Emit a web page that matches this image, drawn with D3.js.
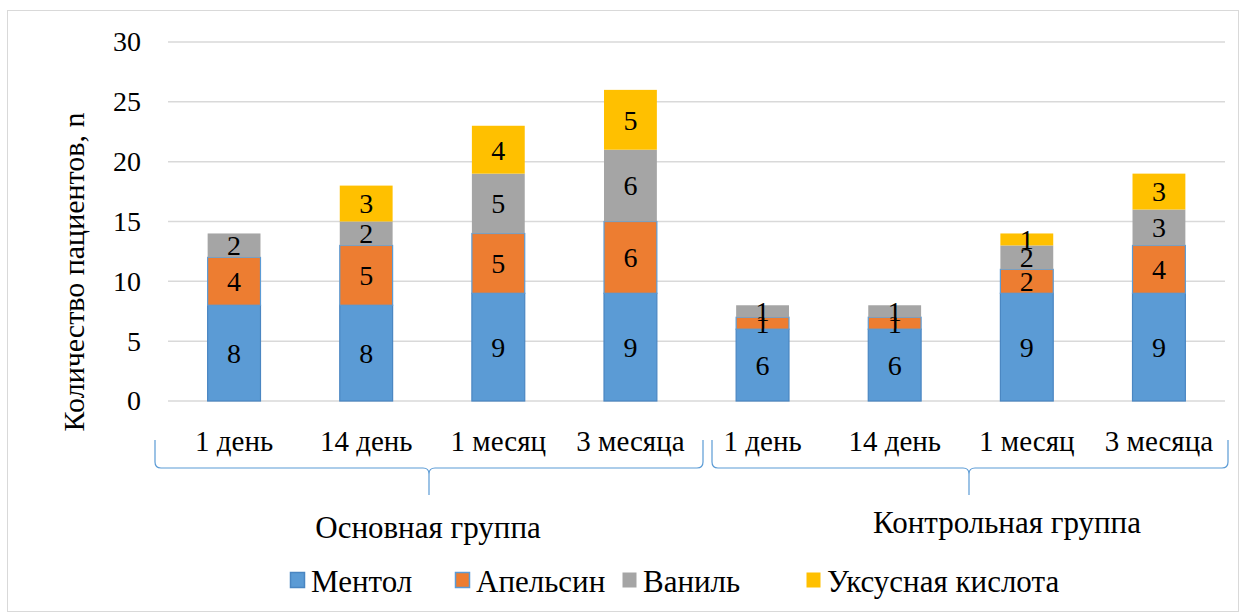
<!DOCTYPE html>
<html>
<head>
<meta charset="utf-8">
<script src="https://cdn.jsdelivr.net/npm/d3@7"></script>
<style>
  html, body { margin: 0; padding: 0; background: #fff; }
  svg { display: block; }
</style>
</head>
<body>
<svg id="chart" width="1243" height="614"></svg>
<script>
// Category labels and their groups
const periods = ["1 день", "14 день", "1 месяц", "3 месяца"];
const groups = ["Основная группа", "Контрольная группа"];

// Series (stack order bottom to top)
const seriesNames = ["Ментол", "Апельсин", "Ваниль", "Уксусная кислота"];
const mentol   = [8, 8, 9, 9, 6, 6, 9, 9];
const orange   = [4, 5, 5, 6, 1, 1, 2, 4];
const vanilla  = [2, 2, 5, 6, 1, 1, 2, 3];
const acetic   = [0, 3, 4, 5, 0, 0, 1, 3];

const yTicks = [0, 5, 10, 15, 20, 25, 30];
const yTitle = "Количество пациентов, n";

const colors = ["#5B9BD5", "#ED7D31", "#A5A5A5", "#FFC000"];
const strokes = ["#4A86C2", "#5B9BD5", "none", "none"];
const FONT = "'Liberation Serif', 'Times New Roman', Tinos, 'DejaVu Serif', serif";

const svg = d3.select("#chart");

// outer frame
svg.append("rect").attr("x", 7.5).attr("y", 10.5).attr("width", 1231).attr("height", 601)
  .attr("fill", "#fff").attr("stroke", "#d9d9d9").attr("stroke-width", 1);

const plot = { left: 168, right: 1225, top: 42, bottom: 401 };

const rows = periods.concat(periods).map((p, i) => ({
  key: i, period: p, group: groups[Math.floor(i / 4)],
  "Ментол": mentol[i], "Апельсин": orange[i], "Ваниль": vanilla[i], "Уксусная кислота": acetic[i]
}));

const x = d3.scaleBand().domain(rows.map(d => d.key)).range([plot.left, plot.right]).paddingInner(0.6).paddingOuter(0.3);
const y = d3.scaleLinear().domain([0, 30]).range([plot.bottom, plot.top]);

function txt(sel, size) {
  return sel.attr("font-family", FONT).style("font-family", FONT).style("font-size", size + "px").attr("fill", "#000");
}

// gridlines
svg.append("g").selectAll("line").data(yTicks).join("line")
  .attr("x1", plot.left).attr("x2", plot.right)
  .attr("y1", d => y(d)).attr("y2", d => y(d))
  .attr("stroke", "#d9d9d9").attr("stroke-width", 1.5);

// y axis labels
const yAxis = d3.axisLeft(y).tickValues(yTicks).tickSize(0).tickPadding(0);
const gy = svg.append("g").attr("transform", `translate(${plot.left - 27},0)`).call(yAxis);
gy.select(".domain").remove();
gy.attr("font-family", FONT);
txt(gy.selectAll("text"), 28);

// y title
txt(svg.append("text"), 30)
  .attr("transform", `translate(84,272) rotate(-90)`)
  .attr("text-anchor", "middle").text(yTitle);

// stacked bars
const stack = d3.stack().keys(seriesNames)(rows);
const layers = svg.append("g").selectAll("g").data(stack).join("g")
  .attr("fill", (d, i) => colors[i]);

layers.each(function(layer, li) {
  const segs = layer.filter(s => s[1] - s[0] > 0);
  d3.select(this).selectAll("rect").data(segs).join("rect")
    .attr("x", s => x(s.data.key))
    .attr("width", x.bandwidth())
    .attr("y", s => y(s[1]))
    .attr("height", s => y(s[0]) - y(s[1]))
    .attr("stroke", strokes[li])
    .attr("stroke-width", strokes[li] === "none" ? 0 : 1.2);
});

// value labels
layers.each(function(layer) {
  const segs = layer.filter(s => s[1] - s[0] > 0);
  txt(d3.select(this).selectAll("text").data(segs).join("text"), 28)
    .attr("x", s => x(s.data.key) + x.bandwidth() / 2)
    .attr("y", s => (y(s[0]) + y(s[1])) / 2)
    .attr("dy", "0.35em")
    .attr("text-anchor", "middle")
    .text(s => s[1] - s[0]);
});

// category labels
txt(svg.append("g").selectAll("text").data(rows).join("text"), 29)
  .attr("x", d => x(d.key) + x.bandwidth() / 2)
  .attr("y", 451)
  .attr("text-anchor", "middle")
  .text(d => d.period);

// group brackets
const brackets = [
  { x0: 155, x1: 703, mid: 429, label: groups[0], lx: 428, ly: 538 },
  { x0: 712, x1: 1228, mid: 969, label: groups[1], lx: 1007, ly: 533 }
];
const bt = 440, bb = 468, bm = 495, r = 6;
brackets.forEach(b => {
  const p = d3.path();
  p.moveTo(b.x0, bt);
  p.lineTo(b.x0, bb - r);
  p.quadraticCurveTo(b.x0, bb, b.x0 + r, bb);
  p.lineTo(b.mid - r, bb);
  p.quadraticCurveTo(b.mid, bb, b.mid, bb + r);
  p.lineTo(b.mid, bm);
  p.moveTo(b.mid, bb + r);
  p.quadraticCurveTo(b.mid, bb, b.mid + r, bb);
  p.lineTo(b.x1 - r, bb);
  p.quadraticCurveTo(b.x1, bb, b.x1, bb - r);
  p.lineTo(b.x1, bt);
  svg.append("path").attr("d", p.toString()).attr("fill", "none")
    .attr("stroke", "#5B9BD5").attr("stroke-width", 1.2);
  txt(svg.append("text"), 31).attr("x", b.lx).attr("y", b.ly).attr("text-anchor", "middle").text(b.label);
});

// legend
const legendX = [290, 455, 622, 806];
const lg = svg.append("g").selectAll("g").data(seriesNames).join("g")
  .attr("transform", (d, i) => `translate(${legendX[i]},580)`);
lg.append("rect").attr("x", 0.5).attr("y", -7.5).attr("width", 14).attr("height", 15)
  .attr("fill", (d, i) => colors[i])
  .attr("stroke", (d, i) => strokes[i]).attr("stroke-width", (d, i) => strokes[i] === "none" ? 0 : 1.5);
txt(lg.append("text"), 31).attr("x", 21).attr("y", 1).attr("dy", "0.35em").text(d => d);
</script>
</body>
</html>
